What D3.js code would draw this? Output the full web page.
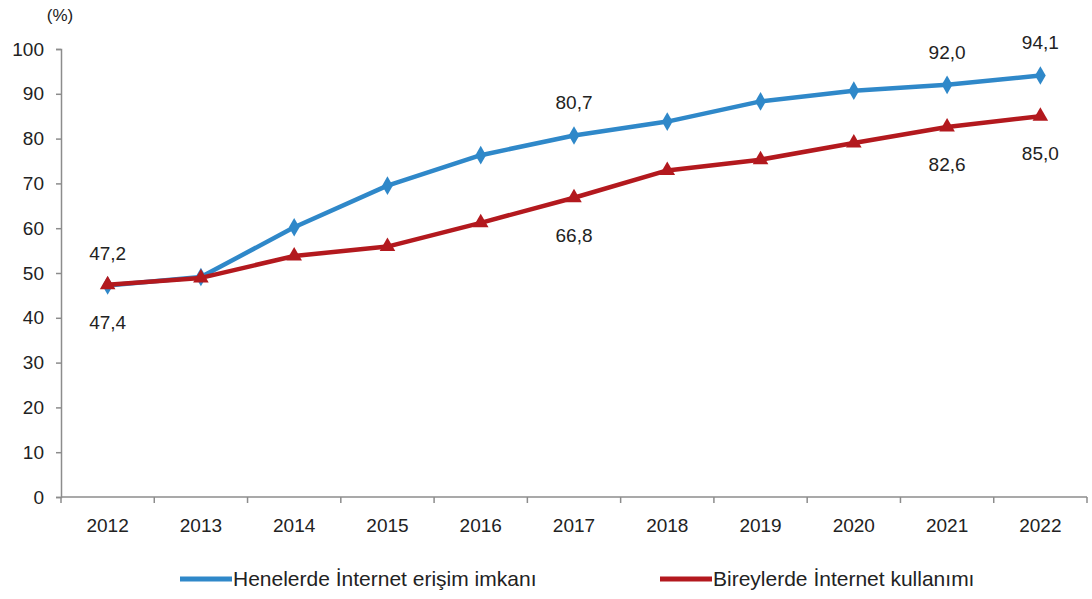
<!DOCTYPE html>
<html>
<head>
<meta charset="utf-8">
<script src="https://cdn.jsdelivr.net/npm/d3@7"></script>
<style>
  body { margin: 0; background: #fff; }
  text { font-family: "Liberation Sans", Arial, sans-serif; fill: #222; }
  .axis path, .axis line { stroke: #8c8c8c; stroke-width: 1.5; }
</style>
</head>
<body>
<div id="chart"></div>
<script>
const years = ["2012","2013","2014","2015","2016","2017","2018","2019","2020","2021","2022"];
const household = [47.2, 49.1, 60.2, 69.5, 76.3, 80.7, 83.8, 88.3, 90.7, 92.0, 94.1];
const individual = [47.4, 48.9, 53.8, 55.9, 61.2, 66.8, 72.9, 75.3, 79.0, 82.6, 85.0];
const yTicks = [0, 10, 20, 30, 40, 50, 60, 70, 80, 90, 100];
const seriesNames = ["Henelerde İnternet erişim imkanı", "Bireylerde İnternet kullanımı"];

// labelled points: [series index, year index, above?]
const labels = [
  [0, 0, true], [0, 5, true], [0, 9, true], [0, 10, true],
  [1, 0, false], [1, 5, false], [1, 9, false], [1, 10, false]
];

const W = 1092, H = 599;
const M = { TOP: 49, LEFT: 61, RIGHT: 5, BOTTOM: 102 };
const BLUE = "#2f88c9", RED = "#b3191e";
const FS = 19;

const svg = d3.select("#chart").append("svg")
  .attr("width", W).attr("height", H);

const x = d3.scaleBand().domain(years).range([M.LEFT, W - M.RIGHT]);
const y = d3.scaleLinear().domain([0, 100]).range([H - M.BOTTOM, M.TOP]);

// y axis
svg.append("g")
  .attr("class", "axis")
  .attr("transform", `translate(${M.LEFT},0)`)
  .call(d3.axisLeft(y).tickValues(yTicks).tickSize(5).tickPadding(12))
  .call(g => g.selectAll("text")
    .attr("font-size", FS)
    .style("font-family", "Liberation Sans, Arial")
    .style("fill", "#222"));

// x axis with ticks at band edges
const xAxis = svg.append("g")
  .attr("class", "axis")
  .attr("transform", `translate(0,${y(0)})`);
xAxis.append("line")
  .attr("x1", M.LEFT).attr("x2", W - M.RIGHT)
  .attr("y1", 0).attr("y2", 0);
xAxis.selectAll(".edge")
  .data(years.concat(["end"]))
  .join("line")
  .attr("class", "edge")
  .attr("x1", (d, i) => i < years.length ? x(d) : x(years[years.length - 1]) + x.bandwidth())
  .attr("x2", (d, i) => i < years.length ? x(d) : x(years[years.length - 1]) + x.bandwidth())
  .attr("y1", 0).attr("y2", 6);
xAxis.selectAll(".yr")
  .data(years)
  .join("text")
  .attr("class", "yr")
  .attr("x", d => x(d) + x.bandwidth() / 2)
  .attr("y", 35)
  .attr("text-anchor", "middle")
  .attr("font-size", FS)
  .text(d => d);

svg.append("text")
  .attr("x", 60).attr("y", 21)
  .attr("text-anchor", "middle")
  .attr("font-size", 17)
  .text("(%)");

const cx = i => x(years[i]) + x.bandwidth() / 2;
const line = d3.line().x((d, i) => cx(i)).y(d => y(d));

const series = [
  { vals: household, color: BLUE, symbol: d3.symbolDiamond, size: 100 },
  { vals: individual, color: RED, symbol: d3.symbolTriangle, size: 105 }
];

series.forEach(s => {
  svg.append("path")
    .datum(s.vals)
    .attr("fill", "none")
    .attr("stroke", s.color)
    .attr("stroke-width", 4.5)
    .attr("stroke-linejoin", "round")
    .attr("d", line);
  svg.selectAll(null)
    .data(s.vals)
    .join("path")
    .attr("transform", (d, i) => `translate(${cx(i)},${y(d)})`)
    .attr("fill", s.color)
    .attr("d", d3.symbol().type(s.symbol).size(s.size));
});

// data labels
svg.selectAll(".lbl")
  .data(labels)
  .join("text")
  .attr("class", "lbl")
  .attr("x", d => cx(d[1]))
  .attr("y", d => y(series[d[0]].vals[d[1]]) + (d[2] ? -26 : 44))
  .attr("text-anchor", "middle")
  .attr("font-size", FS)
  .text(d => series[d[0]].vals[d[1]].toFixed(1).replace(".", ","));

// legend
const legend = svg.append("g").attr("transform", `translate(0,${H - 20})`);
[[180, 0], [660, 1]].forEach(([lx, k]) => {
  legend.append("line")
    .attr("x1", lx).attr("x2", lx + 52)
    .attr("y1", 0).attr("y2", 0)
    .attr("stroke", series[k].color)
    .attr("stroke-width", 5);
  legend.append("text")
    .attr("x", lx + 53).attr("y", 7)
    .attr("font-size", 21)
    .text(seriesNames[k]);
});
</script>
</body>
</html>
